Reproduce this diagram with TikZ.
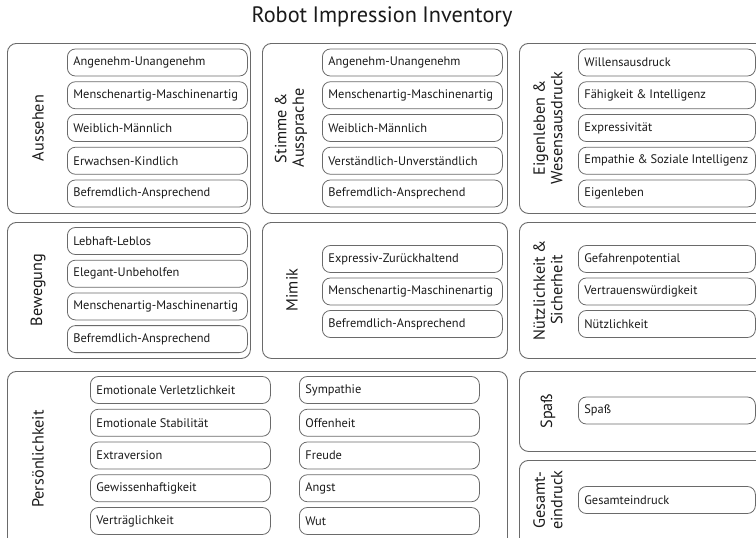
\documentclass[tikz,border=0pt]{standalone}
\usepackage{fontspec}
\setmainfont{PT Sans}[WordSpace=0.9]
\definecolor{boxline}{HTML}{6A6A6A}
\definecolor{ink}{HTML}{1A1A1A}
% item text never breaks at a hyphen
\newcommand{\itemfont}{\fontsize{12.4}{15}\selectfont\exhyphenpenalty=10000\relax\hyphenpenalty=10000\relax}

\begin{document}
\begin{tikzpicture}[x=1pt, y=-1pt, text=ink,
    group/.style ={draw=boxline, line width=0.9pt, rounded corners=9pt, anchor=north west, inner sep=0pt},
    item/.style ={draw=boxline, line width=0.8pt, rounded corners=8pt, anchor=west, minimum height=27pt,
                  text width=168pt, inner xsep=6pt, align=flush left, font=\itemfont},
    shortitem/.style ={item, text width=165pt},
    grouplabel/.style ={rotate=90, align=center, font=\fontsize{16.2}{17.5}\selectfont}]
   \useasboundingbox (0,0) rectangle (756,538);
   \clip (0,0) rectangle (756,538);

   \node[font=\fontsize{22.3}{26}\selectfont] (title) at (382,17) {Robot Impression Inventory};

   % group frames
   \node[group, minimum width=243pt, minimum height=170pt] (aussehen) at (7,43) {};
   \node[group, minimum width=245pt, minimum height=170pt] (stimme) at (262,43) {};
   \node[group, minimum width=250pt, minimum height=170pt] (eigenleben) at (519,43) {};
   \node[group, minimum width=243pt, minimum height=136pt] (bewegung) at (7,222) {};
   \node[group, minimum width=245pt, minimum height=136pt] (mimik) at (262,222) {};
   \node[group, minimum width=250pt, minimum height=136pt] (nutzen) at (519,222) {};
   \node[group, minimum width=500pt, minimum height=180pt] (persoenlichkeit) at (7,371) {};
   \node[group, minimum width=250pt, minimum height=80pt] (spass) at (519,371) {};
   \node[group, minimum width=250pt, minimum height=90pt] (gesamt) at (519,460) {};

   % group labels
   \node[grouplabel] (L1) at (38,128) {Aussehen};
   \node[grouplabel] (L2) at (291,128) {Stimme \&\\Aussprache};
   \node[grouplabel] (L3) at (548,128) {Eigenleben \&\\Wesensausdruck};
   \node[grouplabel] (L4) at (38,290) {Bewegung};
   \node[grouplabel] (L5) at (292,290) {Mimik};
   \node[grouplabel] (L6) at (548,290) {Nützlichkeit \&\\Sicherheit};
   \node[grouplabel] (L7) at (38,459) {Persönlichkeit};
   \node[grouplabel] (L8) at (548,411) {Spaß};
   \node[grouplabel] (L9) at (548,500) {Gesamt-\\eindruck};

   % Aussehen
   \node[item] (A1) at (67,62.5)  {Angenehm-Unangenehm};
   \node[item] (A2) at (67,95.25) {Menschenartig-Maschinenartig};
   \node[item] (A3) at (67,128)   {Weiblich-Männlich};
   \node[item] (A4) at (67,160.75){Erwachsen-Kindlich};
   \node[item] (A5) at (67,193.5) {Befremdlich-Ansprechend};

   % Stimme & Aussprache
   \node[item] (S1) at (322,62.5)  {Angenehm-Unangenehm};
   \node[item] (S2) at (322,95.25) {Menschenartig-Maschinenartig};
   \node[item] (S3) at (322,128)   {Weiblich-Männlich};
   \node[item] (S4) at (322,160.75){Verständlich-Unverständlich};
   \node[item] (S5) at (322,193.5) {Befremdlich-Ansprechend};

   % Eigenleben & Wesensausdruck
   \node[shortitem] (E1) at (578,62.5)  {Willensausdruck};
   \node[shortitem] (E2) at (578,95.25) {Fähigkeit \& Intelligenz};
   \node[shortitem] (E3) at (578,128)   {Expressivität};
   \node[shortitem] (E4) at (578,160.75){Empathie \& Soziale Intelligenz};
   \node[shortitem] (E5) at (578,193.5) {Eigenleben};

   % Bewegung
   \node[item] (B1) at (67,241)   {Lebhaft-Leblos};
   \node[item] (B2) at (67,273.7) {Elegant-Unbeholfen};
   \node[item] (B3) at (67,306.4) {Menschenartig-Maschinenartig};
   \node[item] (B4) at (67,339.1) {Befremdlich-Ansprechend};

   % Mimik
   \node[item] (M1) at (322,259)   {Expressiv-Zurückhaltend};
   \node[item] (M2) at (322,291.5) {Menschenartig-Maschinenartig};
   \node[item] (M3) at (322,324)   {Befremdlich-Ansprechend};

   % Nuetzlichkeit & Sicherheit
   \node[shortitem] (N1) at (578,259)   {Gefahrenpotential};
   \node[shortitem] (N2) at (578,291.5) {Vertrauenswürdigkeit};
   \node[shortitem] (N3) at (578,324)   {Nützlichkeit};

   % Persoenlichkeit
   \node[item] (P1) at (90,390)    {Emotionale Verletzlichkeit};
   \node[item] (P2) at (90,422.75) {Emotionale Stabilität};
   \node[item] (P3) at (90,455.5)  {Extraversion};
   \node[item] (P4) at (90,488.25) {Gewissenhaftigkeit};
   \node[item] (P5) at (90,521)    {Verträglichkeit};
   \node[item] (Q1) at (299,390)    {Sympathie};
   \node[item] (Q2) at (299,422.75) {Offenheit};
   \node[item] (Q3) at (299,455.5)  {Freude};
   \node[item] (Q4) at (299,488.25) {Angst};
   \node[item] (Q5) at (299,521)    {Wut};

   % Spass, Gesamteindruck
   \node[shortitem] (F1) at (578,410.5) {Spaß};
   \node[shortitem] (G1) at (578,500)   {Gesamteindruck};
\end{tikzpicture}
\end{document}
